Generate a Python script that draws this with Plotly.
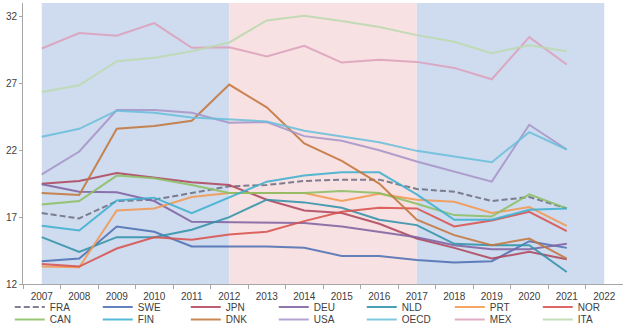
import plotly.graph_objects as go

years = list(range(2007, 2022))
tick_years = list(range(2007, 2023))

FRA = [17.3, 16.9, 18.2, 18.3, 18.8, 19.3, 19.4, 19.7, 19.8, 19.8, 19.1, 18.9, 18.2, 18.5, 17.65]
SWE = [13.7, 13.9, 16.3, 15.9, 14.8, 14.8, 14.8, 14.7, 14.1, 14.1, 13.8, 13.6, 13.7, 15.2, 14.7]
JPN = [19.5, 19.7, 20.3, 19.95, 19.6, 19.4, 18.3, 17.5, 17.3, 16.5, 15.4, 14.7, 13.9, 14.4, 13.85]
DEU = [19.45, 18.9, 18.85, 18.2, 16.65, 16.6, 16.6, 16.55, 16.3, 15.9, 15.5, 14.9, 14.6, 14.6, 15.0]
NLD = [15.5, 14.4, 15.5, 15.5, 16.05, 17.0, 18.3, 18.1, 17.7, 16.8, 16.4, 15.0, 14.9, 14.9, 12.9]
PRT = [13.3, 13.25, 17.5, 17.65, 18.5, 18.8, 18.8, 18.8, 18.2, 18.75, 18.3, 18.15, 17.3, 17.75, 16.35]
NOR = [13.5, 13.3, 14.65, 15.5, 15.3, 15.7, 15.9, 16.7, 17.4, 17.7, 17.65, 16.3, 16.75, 17.4, 15.95]
CAN = [17.95, 18.2, 20.1, 19.9, 19.4, 18.8, 18.8, 18.8, 18.95, 18.8, 18.0, 17.15, 17.05, 18.7, 17.65]
FIN = [16.35, 16.0, 18.25, 18.45, 17.3, 18.45, 19.65, 20.1, 20.35, 20.35, 18.7, 16.8, 16.8, 17.55, 17.65]
DNK = [18.8, 18.65, 23.6, 23.8, 24.2, 26.9, 25.2, 22.5, 21.2, 19.5, 16.8, 15.65, 14.9, 15.4, 13.9]
USA = [20.2, 21.9, 25.0, 25.0, 24.8, 24.05, 24.1, 23.05, 22.7, 22.0, 21.15, 20.4, 19.65, 23.9, 22.05]
OECD = [23.0, 23.6, 24.95, 24.8, 24.45, 24.3, 24.15, 23.45, 23.05, 22.6, 21.95, 21.5, 21.1, 23.35, 22.05]
MEX = [29.6, 30.75, 30.55, 31.5, 29.65, 29.7, 29.0, 29.8, 28.55, 28.75, 28.6, 28.15, 27.3, 30.45, 28.4]
ITA = [26.35, 26.85, 28.65, 28.9, 29.4, 30.05, 31.7, 32.05, 31.65, 31.2, 30.6, 30.1, 29.25, 29.85, 29.4]

row1 = [("FRA", FRA, "#6f6f82", "6px,3px"), ("SWE", SWE, "#4f71b4", "solid"),
        ("JPN", JPN, "#b0485e", "solid"), ("DEU", DEU, "#8064a2", "solid"),
        ("NLD", NLD, "#3393aa", "solid"), ("PRT", PRT, "#f39a52", "solid"),
        ("NOR", NOR, "#d9534f", "solid")]
row2 = [("CAN", CAN, "#8cc063", "solid"), ("FIN", FIN, "#3fb1d0", "solid"),
        ("DNK", DNK, "#c4773d", "solid"), ("USA", USA, "#a796c9", "solid"),
        ("OECD", OECD, "#6cc0dc", "solid"), ("MEX", MEX, "#dca2bc", "solid"),
        ("ITA", ITA, "#bcdab0", "solid")]

periods = [(2007, 2012, "#cfdbee"), (2012, 2017, "#f8e1e2"), (2017, 2022, "#cfdbee")]

fig = go.Figure()
for lg, row in (("legend", row1), ("legend2", row2)):
    for name, vals, col, dash in row:
        fig.add_trace(go.Scatter(x=years, y=vals, name=name, mode="lines",
                                 line=dict(color=col, width=2, dash=dash),
                                 opacity=0.88, legend=lg))

for x0, x1, c in periods:
    fig.add_shape(type="rect", xref="x", yref="paper", x0=x0, x1=x1, y0=0, y1=1,
                  fillcolor=c, line_width=0, layer="below")

font = dict(family="Liberation Sans, Arial, sans-serif", size=10, color="#404040")
fig.update_layout(
    width=623, height=328,
    margin=dict(l=23, r=0, t=3, b=44, autoexpand=False),
    paper_bgcolor="white", plot_bgcolor="white",
    font=font,
    xaxis=dict(range=[2006.5, 2022.5], tickmode="array", tickvals=tick_years,
               ticktext=[str(y) for y in tick_years], ticks="", showgrid=False,
               zeroline=False, showline=True, linecolor="#a6a6a6", linewidth=1,
               ticklabelstandoff=3,
               minor=dict(tickmode="array", tickvals=[y + 0.5 for y in range(2006, 2022)],
                          ticks="outside", ticklen=4, tickcolor="#a6a6a6", showgrid=False),
               tickfont=font),
    yaxis=dict(range=[12, 33], tickmode="array", tickvals=[12, 17, 22, 27, 32],
               ticks="outside", ticklen=3, tickcolor="#a6a6a6", showgrid=False,
               zeroline=False, showline=True, linecolor="#a6a6a6", linewidth=1,
               tickfont=font),
    legend=dict(orientation="h", x=-0.022, xanchor="left", y=-0.082, yanchor="middle",
                entrywidth=43, font=font, bgcolor="rgba(0,0,0,0)", traceorder="normal"),
    legend2=dict(orientation="h", x=-0.022, xanchor="left", y=-0.126, yanchor="middle",
                 entrywidth=43, font=font, bgcolor="rgba(0,0,0,0)", traceorder="normal"),
)

fig.write_html("out.html")
